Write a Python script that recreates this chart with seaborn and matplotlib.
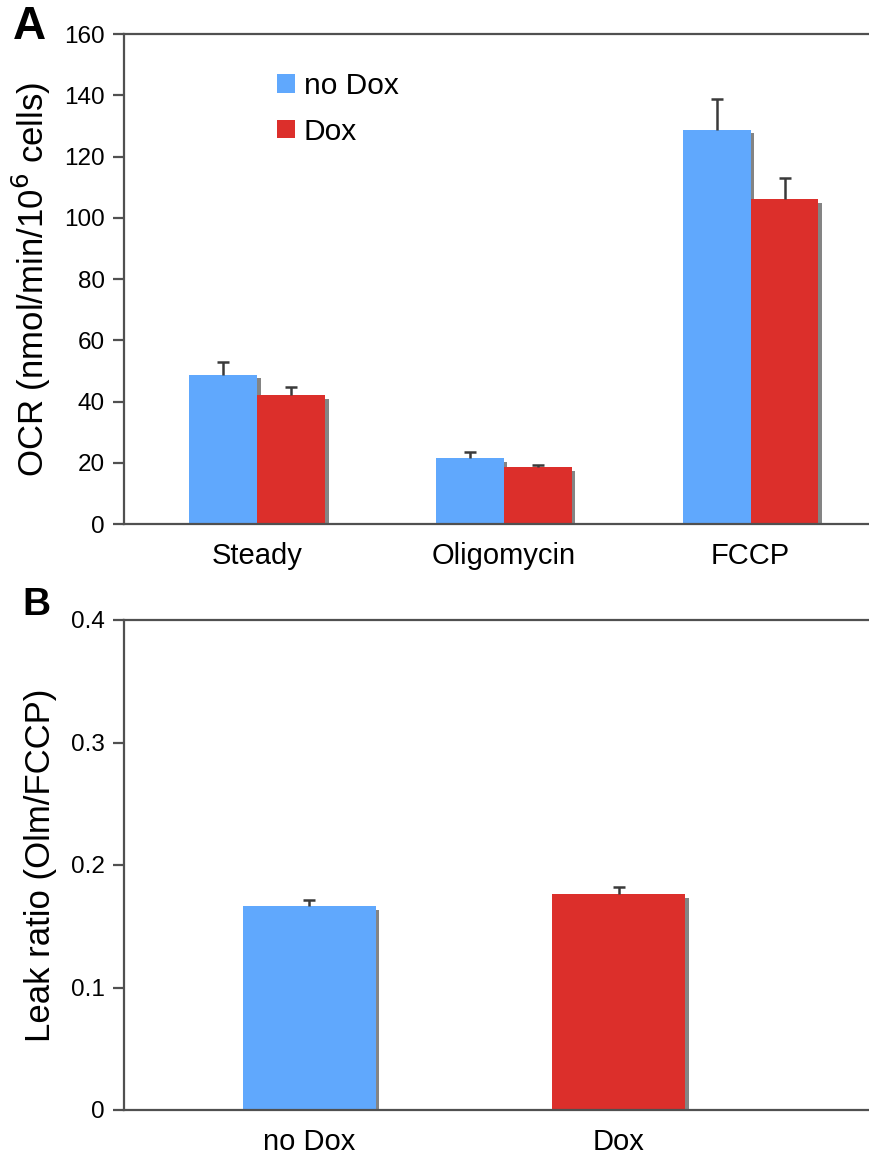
import numpy as np
import pandas as pd
import matplotlib
matplotlib.use("Agg")
import matplotlib.pyplot as plt
import matplotlib.patheffects as pe
from matplotlib.patches import Patch
import seaborn as sns

# panel A data
conditions = ["Steady", "Oligomycin", "FCCP"]
groups = ["no Dox", "Dox"]
ocr_nodox = [48.7, 21.5, 128.8]
ocr_dox = [42.0, 18.6, 106.0]
ocr_nodox_err = [4.2, 2.0, 10.0]
ocr_dox_err = [2.8, 0.8, 7.0]

# panel B data
leak_groups = ["no Dox", "Dox"]
leak_vals = [0.1665, 0.176]
leak_err = [0.005, 0.006]

blue = "#60A8FD"
red = "#DC2F2B"
spine_col = "#505050"
err_col = "#3a3a3a"

sns.set_theme(style="white")
plt.rcParams["font.family"] = ["Liberation Sans", "DejaVu Sans"]
plt.rcParams["text.color"] = "black"
plt.rcParams["axes.labelcolor"] = "black"

fig = plt.figure(figsize=(8.69, 11.56), dpi=100)
axA = fig.add_axes([124 / 869, 1 - 524 / 1156, (869 - 124) / 869, 490 / 1156])
axB = fig.add_axes([124 / 869, 1 - 1110 / 1156, (869 - 124) / 869, 490 / 1156])

shadow = [pe.SimplePatchShadow(offset=(2.5, -2.5), shadow_rgbFace="#777777", alpha=0.9), pe.Normal()]


def add_err(ax, patch, e):
    # upper-only error bar with a single cap
    xc = patch.get_x() + patch.get_width() / 2
    _, caps, _ = ax.errorbar(xc, patch.get_height(), yerr=[[0], [e]], fmt="none",
                             ecolor=err_col, elinewidth=1.8, capsize=4.5, capthick=1.8,
                             zorder=5)
    caps[0].set_visible(False)


dfA = pd.DataFrame({
    "cond": conditions * 2,
    "grp": ["no Dox"] * 3 + ["Dox"] * 3,
    "ocr": ocr_nodox + ocr_dox,
})
sns.barplot(data=dfA, x="cond", y="ocr", hue="grp", hue_order=groups, order=conditions,
            palette=[blue, red], width=0.55, errorbar=None, saturation=1, ax=axA,
            linewidth=0, legend=False)

for p, e in zip(axA.patches[:6], ocr_nodox_err + ocr_dox_err):
    p.set_path_effects(shadow)
    add_err(axA, p, e)

axA.set_ylim(0, 160)
axA.set_yticks(np.arange(0, 161, 20))
axA.set_xlim(-0.54, 2.48)
axA.set_xlabel("")
axA.set_ylabel("OCR (nmol/min/10$^6$ cells)", fontsize=25, labelpad=8)
handles = [Patch(facecolor=blue, edgecolor="none"), Patch(facecolor=red, edgecolor="none")]
axA.legend(handles=handles, labels=groups, loc="upper left",
           bbox_to_anchor=(0.205, 0.922), frameon=False, fontsize=21.5, handlelength=0.6,
           handleheight=0.6, handletextpad=0.3, labelspacing=0.58, borderpad=0,
           borderaxespad=0)

dfB = pd.DataFrame({"grp": leak_groups, "leak": leak_vals})
sns.barplot(data=dfB, x="grp", y="leak", hue="grp", palette=[blue, red], width=0.43,
            errorbar=None, saturation=1, ax=axB, legend=False, linewidth=0)
for p, e in zip(axB.patches[:2], leak_err):
    p.set_path_effects(shadow)
    add_err(axB, p, e)
axB.set_ylim(0, 0.4)
axB.set_yticks([0, 0.1, 0.2, 0.3, 0.4])
axB.set_yticklabels(["0", "0.1", "0.2", "0.3", "0.4"])
axB.set_xlim(-0.6, 1.81)
axB.set_xlabel("")
axB.set_ylabel("Leak ratio (Olm/FCCP)", fontsize=25, labelpad=10)

for ax in (axA, axB):
    ax.spines["right"].set_visible(False)
    for s in ("left", "top", "bottom"):
        ax.spines[s].set_color(spine_col)
        ax.spines[s].set_linewidth(1.6)
    ax.tick_params(axis="y", which="both", left=True, length=8, width=1.6, color=spine_col,
                   labelsize=17.5, pad=6, labelcolor="black")
    ax.tick_params(axis="x", bottom=False, labelsize=21, pad=7, labelcolor="black")

fig.text(29 / 869, 1 - 27 / 1156, "A", fontsize=33, fontweight="bold", ha="center", va="center")
fig.text(36 / 869, 1 - 605 / 1156, "B", fontsize=28, fontweight="bold", ha="center", va="center")

fig.savefig("out.png", dpi=100)
